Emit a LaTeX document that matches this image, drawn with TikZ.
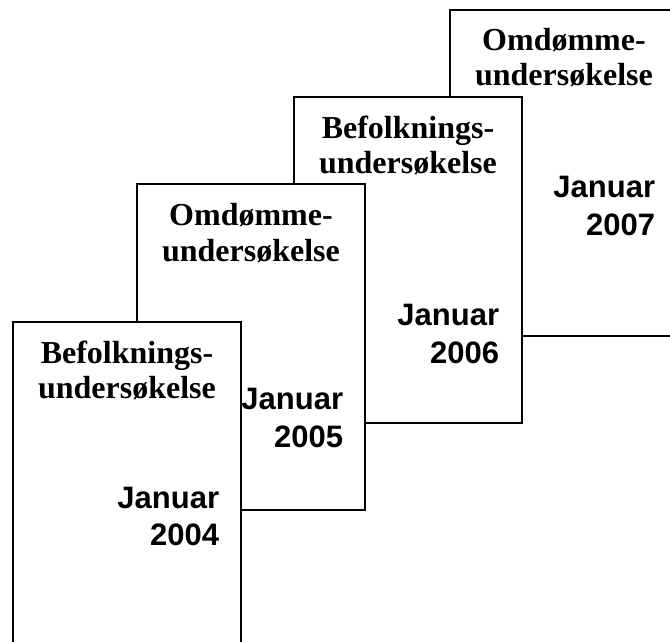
\documentclass[tikz,border=0pt]{standalone}
\usepackage{fontspec}
\setmainfont{Liberation Serif}
\setsansfont{Liberation Sans}
\begin{document}
\begin{tikzpicture}[x=1pt,y=-1pt,line width=1.8pt,
	sheet/.style={draw=black,fill=white},
	title/.style={font=\fontsize{32}{35}\selectfont\bfseries,anchor=base,inner sep=0pt},
	date/.style={font=\fontsize{31}{38}\selectfont\sffamily\bfseries,anchor=base east,inner sep=0pt}]
	\useasboundingbox (0,0) rectangle (670,641);
	\clip (0,0) rectangle (670,641);
	% 2007
	\draw[sheet] (450,10) rectangle ++(228,326);
	\node[title] (omdA) at (564,50) {Omdømme-};
	\node[title] (omdB) at (564,85) {undersøkelse};
	\node[date] (jan07) at (656,197) {Januar};
	\node[date] (yr07) at (656,235) {2007};
	% 2006
	\draw[sheet] (294,97) rectangle ++(228,326);
	\node[title] (befA) at (408,138) {Befolknings-};
	\node[title] (befB) at (408,173) {undersøkelse};
	\node[date] (jan06) at (500,325) {Januar};
	\node[date] (yr06) at (500,363) {2006};
	% 2005
	\draw[sheet] (137,184) rectangle ++(228,326);
	\node[title] (omdC) at (251,225) {Omdømme-};
	\node[title] (omdD) at (251,261) {undersøkelse};
	\node[date] (jan05) at (344,409) {Januar};
	\node[date] (yr05) at (344,447) {2005};
	% 2004
	\draw[sheet] (13,322) rectangle ++(228,326);
	\node[title] (befC) at (127,363) {Befolknings-};
	\node[title] (befD) at (127,398) {undersøkelse};
	\node[date] (jan04) at (220,508) {Januar};
	\node[date] (yr04) at (220,545) {2004};
\end{tikzpicture}
\end{document}
